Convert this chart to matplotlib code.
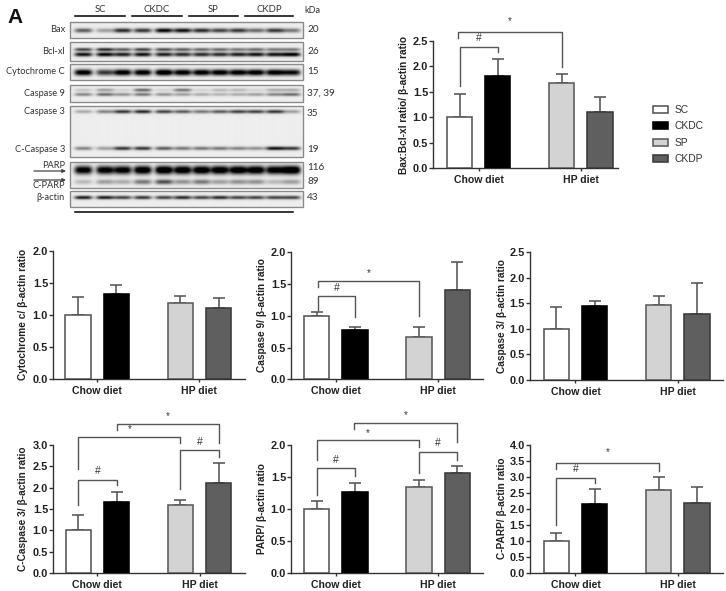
import numpy as np
import matplotlib
matplotlib.use("Agg")
import matplotlib.pyplot as plt

W, H = 726, 591
plt.rcParams['font.family'] = ['Liberation Sans', 'DejaVu Sans']

# ---------- bar data ----------
series = ['SC', 'CKDC', 'SP', 'CKDP']
groups = ['Chow diet', 'HP diet']
bar_x = [0, 1, 2.67, 3.67]
group_x = [0.5, 3.17]

bax_mean = [1.0, 1.81, 1.67, 1.11];   bax_top = [1.45, 2.15, 1.85, 1.40]
cyt_mean = [1.0, 1.33, 1.19, 1.10];   cyt_top = [1.28, 1.47, 1.30, 1.26]
c9_mean = [1.0, 0.78, 0.67, 1.41];    c9_top = [1.06, 0.83, 0.82, 1.84]
c3_mean = [1.0, 1.44, 1.46, 1.30];    c3_top = [1.42, 1.54, 1.65, 1.90]
cc3_mean = [1.0, 1.67, 1.60, 2.12];   cc3_top = [1.36, 1.89, 1.71, 2.58]
parp_mean = [1.0, 1.26, 1.34, 1.56];  parp_top = [1.12, 1.40, 1.45, 1.67]
cparp_mean = [1.0, 2.17, 2.60, 2.20]; cparp_top = [1.25, 2.63, 2.99, 2.70]

face = ['#ffffff', '#000000', '#d3d3d3', '#5f5f5f']
edge = ['#555555', '#000000', '#5a5a5a', '#3a3a3a']

# panel: label, mean, top, ymax, step, left, right, y0, ytop, first bar px, ylabel x, ylabel y
panels = [
    ('Bax:Bcl-xl ratio/ β-actin ratio', bax_mean, bax_top, 2.5, 0.5, 433, 618, 168.3, 41, 459.5, 404, 105,
     [(0, 1, 2.375, 1.62, 2.29, '#', 2.55), (-0.03, 2.67, 2.68, 2.55, 1.98, '*', 2.90)]),
    ('Cytochrome c/ β-actin ratio', cyt_mean, cyt_top, 2.0, 0.5, 53, 245, 378.7, 251, 78, 23, 314.5, []),
    ('Caspase 9/ β-actin ratio', c9_mean, c9_top, 2.0, 0.5, 291, 483, 379.3, 252.3, 316.8, 262, 315,
     [(0.03, 1, 1.317, 1.09, 0.987, '#', 1.43), (0.03, 2.67, 1.55, 1.45, 1.0, '*', 1.67)]),
    ('Caspase 3/ β-actin ratio', c3_mean, c3_top, 2.5, 0.5, 530, 722.5, 380, 252.3, 556.3, 502, 316, []),
    ('C-Caspase 3/ β-actin ratio', cc3_mean, cc3_top, 3.0, 0.5, 53, 245, 573, 445, 78.2, 23, 509,
     [(0, 1, 2.18, 1.59, 2.06, '#', 2.40), (0, 2.67, 3.195, 2.44, 3.05, '*', 3.37),
      (1, 3.67, 3.50, 3.34, 3.05, '*', 3.68), (2.67, 3.67, 2.88, 1.96, 2.73, '#', 3.08)]),
    ('PARP/ β-actin ratio', parp_mean, parp_top, 2.0, 0.5, 291, 483, 573, 445, 316.8, 262, 509,
     [(0, 1, 1.635, 1.22, 1.52, '#', 1.765), (0, 2.67, 2.083, 1.765, 1.97, '*', 2.19),
      (0.97, 3.67, 2.35, 2.245, 2.04, '*', 2.46), (2.67, 3.67, 1.885, 1.56, 1.765, '#', 2.03)]),
    ('C-PARP/ β-actin ratio', cparp_mean, cparp_top, 4.0, 0.5, 530, 722.5, 573, 445, 556.3, 502, 508,
     [(0, 1, 2.96, 1.5, 2.8, '#', 3.24), (0, 2.67, 3.45, 3.25, 3.2, '*', 3.79)]),
]

# ---------- blot band strengths, one per lane ----------
lanes = np.array([250, 315, 368, 428, 492, 548, 605, 660, 715, 768, 825, 875]) / 3
bax_band = [.55, .3, .75, .7, .9, .85, .75, .65, .7, .5, .7, .45]
bcl_up = [.65, .75, .55, .65, .6, .55, .5, .5, .45, .5, .45, .45]
bcl_low = [.85, .9, .8, .85, .8, .75, .75, .75, .8, .85, .85, .95]
cyt_band = [1, .7, 1, 1, 1.1, 1, 1, 1, 1, 1, 1, .9]
c9_up = [.15, .3, .1, .5, .1, .45, .1, .2, .2, .1, .25, .25]
c9_low = [.4, .5, .35, .45, .35, .3, .25, .22, .25, .3, .4, .5]
c3_band = [.25, .4, .7, .75, .65, .55, .45, .55, .65, .65, .7, .3]
cc3_band = [.4, .3, .7, .7, .55, .45, .45, .45, .4, .35, .85, .7]
parp_band = [1, 1, 1, 1.1, 1.15, 1.1, 1.1, 1.1, 1.1, 1.1, 1.05, 1.2]
cparp_band = [.2, .3, .25, .45, .6, .35, .45, .3, .35, .35, .2, .3]
actin_band = [.8, .8, .65, .7, .65, .75, .65, .75, .65, .65, .65, .65]

# strip top, bottom, [(band y, strengths, band sigma)]
strips = [
    (22, 38, [(30.5, bax_band, 1.6)]),
    (42, 61, [(49.5, bcl_up, 1.2), (54.5, bcl_low, 1.5)]),
    (64, 80, [(72.5, cyt_band, 2.2)]),
    (85, 102, [(90, c9_up, 1.2), (94.5, c9_low, 1.2)]),
    (106, 157, [(111.5, c3_band, 1.3), (148.5, cc3_band, 1.3)]),
    (162, 188, [(170, parp_band, 3.0), (182, cparp_band, 1.8)]),
    (191, 207, [(197.5, actin_band, 1.3)]),
]
left_labels = [('Bax', 65, 29), ('Bcl-xl', 65, 52), ('Cytochrome C', 65, 72), ('Caspase 9', 65, 93),
               ('Caspase 3', 65, 112), ('C-Caspase 3', 65, 149.5), ('PARP', 65, 166), ('C-PARP', 65, 186),
               ('β-actin', 65, 198)]
right_labels = [('20', 29), ('26', 52), ('15', 72), ('37, 39', 93), ('35', 113), ('19', 149),
                ('116', 168), ('89', 182), ('43', 198)]
headers = [('SC', 100, 75, 125), ('CKDC', 157, 132, 182), ('SP', 213, 189, 238), ('CKDP', 269, 245, 293)]

fig = plt.figure(figsize=(W / 100, H / 100), dpi=100)
page = fig.add_axes([0, 0, 1, 1], zorder=0)
page.set_xlim(0, W)
page.set_ylim(H, 0)
page.axis('off')

# ---------- blots ----------
bfont = ['Lato', 'DejaVu Sans']
for top, bot, bands in strips:
    xs = np.linspace(70, 303, 700)
    ys = np.linspace(top, bot, int((bot - top) * 3))
    X, Y = np.meshgrid(xs, ys)
    dark = np.zeros_like(X)
    for by, amps, sig in bands:
        for lx, a in zip(lanes, amps):
            dark += a * np.exp(-((X - lx) / 9.0) ** 4) * np.exp(-((Y - by) / sig) ** 2 / 2)
    img = np.clip(0.93 - dark * 1.05, 0, 1)
    page.imshow(img, extent=(70, 303, bot, top), cmap='gray', vmin=0, vmax=1, aspect='auto', interpolation='bilinear')
    page.add_patch(plt.Rectangle((70, top), 233, bot - top, fill=False, ec='#8a8a8a', lw=1.0))
page.set_xlim(0, W)
page.set_ylim(H, 0)

for t, x, y in left_labels:
    page.text(x, y, t, ha='right', va='center', fontsize=6.7, family=bfont, color='#333333')
for t, y in right_labels:
    page.text(307, y, t, ha='left', va='center', fontsize=7.2, family=bfont, color='#333333')
page.text(304, 10.5, 'kDa', ha='left', va='center', fontsize=6.5, family=bfont, color='#333333')
for t, x, x0, x1 in headers:
    page.text(x, 9, t, ha='center', va='center', fontsize=6.8, family=bfont, color='#333333')
    page.plot([x0, x1], [16, 16], color='black', lw=1.1)
page.plot([75, 293], [212, 212], color='black', lw=1.1)
page.text(7, 17.5, 'A', ha='left', va='center', fontsize=15, fontweight='bold', color='#111111')
for y in (171, 180):
    page.annotate('', xy=(66, y), xytext=(34, y),
                  arrowprops=dict(arrowstyle='-|>', color='#444444', lw=0.9, mutation_scale=5, shrinkA=0, shrinkB=0))

# ---------- bar panels ----------
UNIT = 38.3
handles = None
for label, mean, top, ymax, step, l, r, y0, yt, c0, lx, ly, brackets in panels:
    ax = fig.add_axes([l / W, 1 - y0 / H, (r - l) / W, (y0 - yt) / H], zorder=2)
    ax.patch.set_alpha(0)
    ax.set_xlim((l - c0) / UNIT, (r - c0) / UNIT)
    ax.set_ylim(0, ymax)
    bars = ax.bar(bar_x, mean, width=0.66, color=face, edgecolor=edge, linewidth=1.15, zorder=3)
    ax.errorbar(bar_x, mean, yerr=[np.zeros(4), np.array(top) - np.array(mean)], fmt='none',
                ecolor='#555555', elinewidth=1.15, capsize=4.6, capthick=1.15, zorder=2)
    handles = bars
    ax.spines[['top', 'right']].set_visible(False)
    ax.spines[['left', 'bottom']].set_linewidth(1.0)
    ax.spines[['left', 'bottom']].set_color('#333333')
    ax.set_yticks(np.arange(0, ymax + 0.01, step))
    ax.set_yticklabels([f'{v:.1f}' for v in np.arange(0, ymax + 0.01, step)], fontsize=7.9, fontweight='bold', color='#222222')
    ax.set_xticks(group_x)
    ax.set_xticklabels(groups, fontsize=7.6, fontweight='bold', color='#222222')
    ax.tick_params(axis='y', length=3, width=1.0, color='#333333', pad=0.6)
    ax.tick_params(axis='x', length=2.2, width=1.0, color='#333333', pad=2.8)
    page.text(lx, ly, label, rotation=90, ha='center', va='center', fontsize=7.3, fontweight='bold', color='#222222')
    for x0, x1, yb, yl, yr, sym, ys in brackets:
        ax.plot([x0, x0, x1, x1], [yl, yb, yb, yr], color='#555555', lw=1.0, clip_on=False, zorder=4)
        ax.text((x0 + x1) / 2, ys, sym, ha='center', va='center', fontsize=7.5 if sym == '#' else 7,
                color='#333333', clip_on=False)

leg = fig.legend(handles, series, loc='upper left', bbox_to_anchor=(653 / W, 1 - 105 / H), frameon=False,
                 fontsize=7.4, handlelength=1.46, handleheight=0.68, handletextpad=0.68, labelspacing=0.62,
                 borderpad=0, borderaxespad=0)
for t in leg.get_texts():
    t.set_color('#333333')

fig.savefig('out.png', dpi=100)
